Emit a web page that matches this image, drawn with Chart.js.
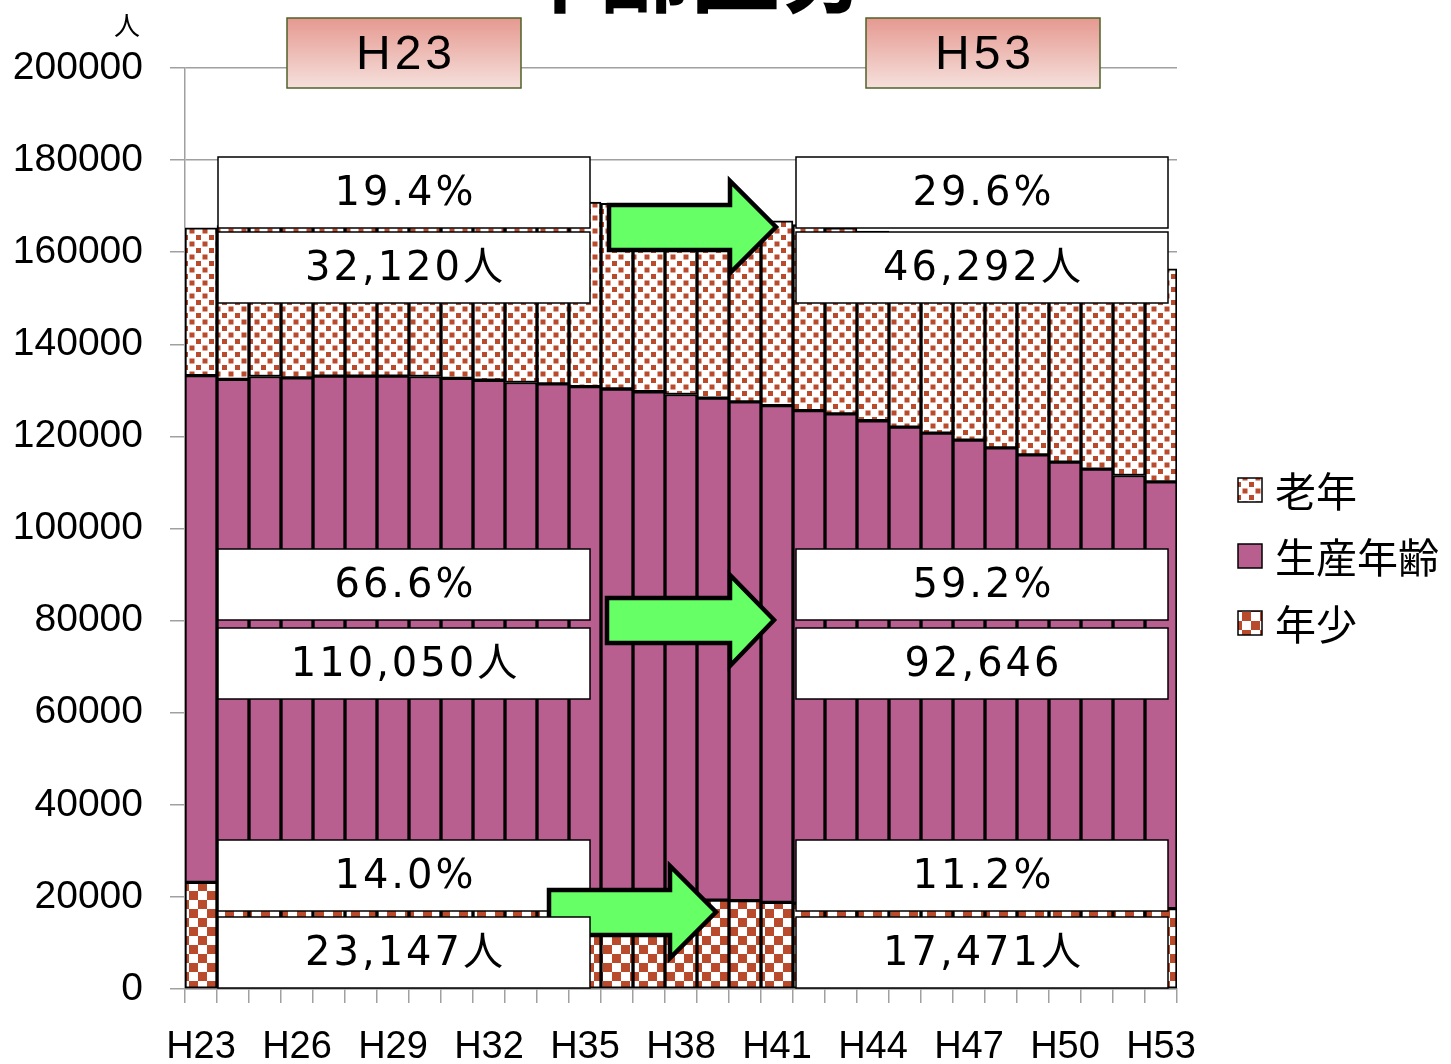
<!DOCTYPE html>
<html lang="ja">
<head>
  <meta charset="UTF-8" />
  <title>年齢区分</title>
  <script src="https://cdn.jsdelivr.net/npm/chart.js"></script>
  <style>
    html, body { margin: 0; padding: 0; background: #fff; }
    #wrap { width: 1451px; height: 1064px; position: relative; }
  </style>
</head>
<body>
<div id="wrap"><canvas id="ageChart"></canvas></div>
<script>
  // categories (平成 years)
  const years = ['H23','H24','H25','H26','H27','H28','H29','H30','H31','H32','H33',
                 'H34','H35','H36','H37','H38','H39','H40','H41','H42','H43','H44',
                 'H45','H46','H47','H48','H49','H50','H51','H52','H53'];

  // persons
  const young = [23147,21800,21400,21100,20800,20600,20400,20200,20000,19900,19800,
                 19700,19600,19500,19400,19400,19300,19200,18800,18600,18500,18400,
                 18300,18200,18100,18000,17900,17800,17700,17600,17471];
  const working = [110050,110600,111600,111600,112300,112500,112700,112800,112600,112300,111900,
                   111700,111200,110800,110300,109700,109000,108300,107900,107000,106400,105000,
                   103700,102500,101100,99500,98100,96600,95200,93900,92646];
  const elderly = [32120,33400,33300,34100,34200,34700,35200,35800,36700,37600,38500,
                   39200,40100,40300,40400,40400,40500,40400,40100,40400,40400,41200,
                   41700,42100,42700,43400,43900,44500,45000,45700,46292];

  const seriesNames = ['年少', '生産年齢', '老年'];
  const yTicks = [0, 20000, 40000, 60000, 80000, 100000, 120000, 140000, 160000, 180000, 200000];

  // callout texts: [left (H23), right (H53)]
  const calloutRows = [
    ['19.4%', '29.6%'],
    ['32,120人', '46,292人'],
    ['66.6%', '59.2%'],
    ['110,050人', '92,646'],
    ['14.0%', '11.2%'],
    ['23,147人', '17,471人']
  ];
  const headers = ['H23', 'H53'];

  const RED = '#BA4A2C';
  const PURPLE = '#B95F90';

  function dotPattern() {
    const c = document.createElement('canvas');
    c.width = 13; c.height = 13;
    const g = c.getContext('2d');
    g.fillStyle = '#fff'; g.fillRect(0, 0, 13, 13);
    g.fillStyle = RED;
    g.fillRect(1, 1, 5, 5);
    g.fillRect(7.5, 7.5, 5, 5);
    return g.createPattern(c, 'repeat');
  }

  function checkPattern() {
    const c = document.createElement('canvas');
    c.width = 18; c.height = 18;
    const g = c.getContext('2d');
    g.fillStyle = '#fff'; g.fillRect(0, 0, 18, 18);
    g.fillStyle = RED;
    g.fillRect(0, 0, 9, 9);
    g.fillRect(9, 9, 9, 9);
    return g.createPattern(c, 'repeat');
  }

  const ctx0 = document.getElementById('ageChart').getContext('2d');
  const fills = [checkPattern(), PURPLE, dotPattern()];

  function drawBox(ctx, x, y, w, h, text) {
    ctx.fillStyle = '#fff';
    ctx.fillRect(x, y, w, h);
    ctx.strokeStyle = '#000';
    ctx.lineWidth = 1.5;
    ctx.strokeRect(x, y, w, h);
    ctx.fillStyle = '#000';
    ctx.font = '40px "DejaVu Sans", "Noto Sans CJK JP", sans-serif';
    ctx.letterSpacing = '3px';
    ctx.textAlign = 'center';
    ctx.textBaseline = 'middle';
    ctx.fillText(text, x + w / 2 + 1.5, y + h / 2 + 2);
    ctx.letterSpacing = '0px';
  }

  function drawArrow(ctx, x0, top, bot, xh, htop, hbot, tipX, tipY) {
    ctx.beginPath();
    ctx.moveTo(x0, top);
    ctx.lineTo(xh, top);
    ctx.lineTo(xh, htop);
    ctx.lineTo(tipX, tipY);
    ctx.lineTo(xh, hbot);
    ctx.lineTo(xh, bot);
    ctx.lineTo(x0, bot);
    ctx.closePath();
    ctx.fillStyle = '#66FF66';
    ctx.fill();
    ctx.lineWidth = 4.5;
    ctx.lineJoin = 'miter';
    ctx.strokeStyle = '#000';
    ctx.stroke();
  }

  const overlay = {
    id: 'overlay',
    afterDraw(chart) {
      const ctx = chart.ctx;
      ctx.save();

      // cut-off title
      ctx.fillStyle = '#000';
      ctx.font = 'bold 90px "Noto Sans CJK JP", sans-serif';
      ctx.textAlign = 'center';
      ctx.textBaseline = 'alphabetic';
      ctx.fillText('年齢区分', 690, 5);

      // unit label
      ctx.font = '26px "Noto Sans CJK JP", sans-serif';
      ctx.textBaseline = 'middle';
      ctx.fillText('人', 127, 25);

      // H23 / H53 headers
      [[287, headers[0]], [866, headers[1]]].forEach(([x, t]) => {
        const grad = ctx.createLinearGradient(0, 18, 0, 88);
        grad.addColorStop(0, '#E59990');
        grad.addColorStop(1, '#F6E0DC');
        ctx.fillStyle = grad;
        ctx.fillRect(x, 18, 234, 70);
        ctx.strokeStyle = '#4F6228';
        ctx.lineWidth = 1.5;
        ctx.strokeRect(x, 18, 234, 70);
        ctx.fillStyle = '#000';
        ctx.font = '48px "Liberation Sans", sans-serif';
        ctx.letterSpacing = '4px';
        ctx.textAlign = 'center';
        ctx.textBaseline = 'middle';
        ctx.fillText(t, x + 117 + 2, 56);
        ctx.letterSpacing = '0px';
      });

      // callout boxes and arrows
      const rowY = [157, 232, 549, 628, 840, 917];
      const colX = [218, 796];
      const w = 372, h = 71;
      for (let r = 0; r < rowY.length; r++) {
        if (r === 5) drawArrow(ctx, 549, 890, 935, 670, 866, 958, 716, 912);
        for (let c = 0; c < 2; c++) {
          drawBox(ctx, colX[c], rowY[r], w, h, calloutRows[r][c]);
        }
      }
      drawArrow(ctx, 609, 205, 250, 730, 181, 273, 776, 227);
      drawArrow(ctx, 607, 598, 643, 730, 575, 666, 774, 620);

      // legend (top to bottom: 老年, 生産年齢, 年少)
      const legY = [490, 556, 623];
      [2, 1, 0].forEach((d, i) => {
        ctx.fillStyle = fills[d];
        ctx.fillRect(1238, legY[i] - 12, 24, 24);
        ctx.strokeStyle = '#000';
        ctx.lineWidth = 1.5;
        ctx.strokeRect(1238, legY[i] - 12, 24, 24);
        ctx.fillStyle = '#000';
        ctx.font = '41px "Noto Sans CJK JP", sans-serif';
        ctx.textAlign = 'left';
        ctx.textBaseline = 'middle';
        ctx.fillText(seriesNames[d], 1275, legY[i] + 1);
      });

      ctx.restore();
    }
  };

  const datasets = [young, working, elderly].map((vals, i) => ({
    label: seriesNames[i],
    data: vals,
    backgroundColor: fills[i],
    borderColor: '#000',
    borderWidth: 2,
    borderSkipped: false,
    categoryPercentage: 1.0,
    barPercentage: 1.0
  }));

  Chart.defaults.font.family = '"Liberation Sans", Arial, sans-serif';
  Chart.defaults.color = '#000';

  new Chart(ctx0, {
    type: 'bar',
    data: { labels: years, datasets: datasets },
    options: {
      responsive: true,
      maintainAspectRatio: false,
      animation: false,
      devicePixelRatio: 1,
      layout: { padding: { top: 68, right: 274, left: 0, bottom: 0 } },
      plugins: {
        legend: { display: false },
        tooltip: { enabled: false },
        title: { display: false }
      },
      scales: {
        x: {
          stacked: true,
          offset: true,
          grid: {
            offset: true,
            drawOnChartArea: false,
            drawTicks: true,
            tickLength: 14,
            color: '#A0A0A0',
            lineWidth: 1.5
          },
          border: { color: '#A0A0A0', width: 1.5 },
          ticks: {
            autoSkip: false,
            maxRotation: 0,
            padding: 22,
            font: { size: 38 },
            callback: function (v, i) { return i % 3 === 0 ? years[i] : ''; }
          },
          afterFit: function (s) { s.height = 75; }
        },
        y: {
          stacked: true,
          min: yTicks[0],
          max: yTicks[yTicks.length - 1],
          afterBuildTicks: function (s) { s.ticks = yTicks.map(v => ({ value: v })); },
          grid: { color: '#A0A0A0', lineWidth: 1.5, tickLength: 15 },
          border: { color: '#A0A0A0', width: 1.5 },
          ticks: {
            padding: 27,
            font: { size: 39 },
            callback: function (v) { return String(v); }
          },
          afterFit: function (s) { s.width = 185; }
        }
      }
    },
    plugins: [overlay]
  });
</script>
</body>
</html>
